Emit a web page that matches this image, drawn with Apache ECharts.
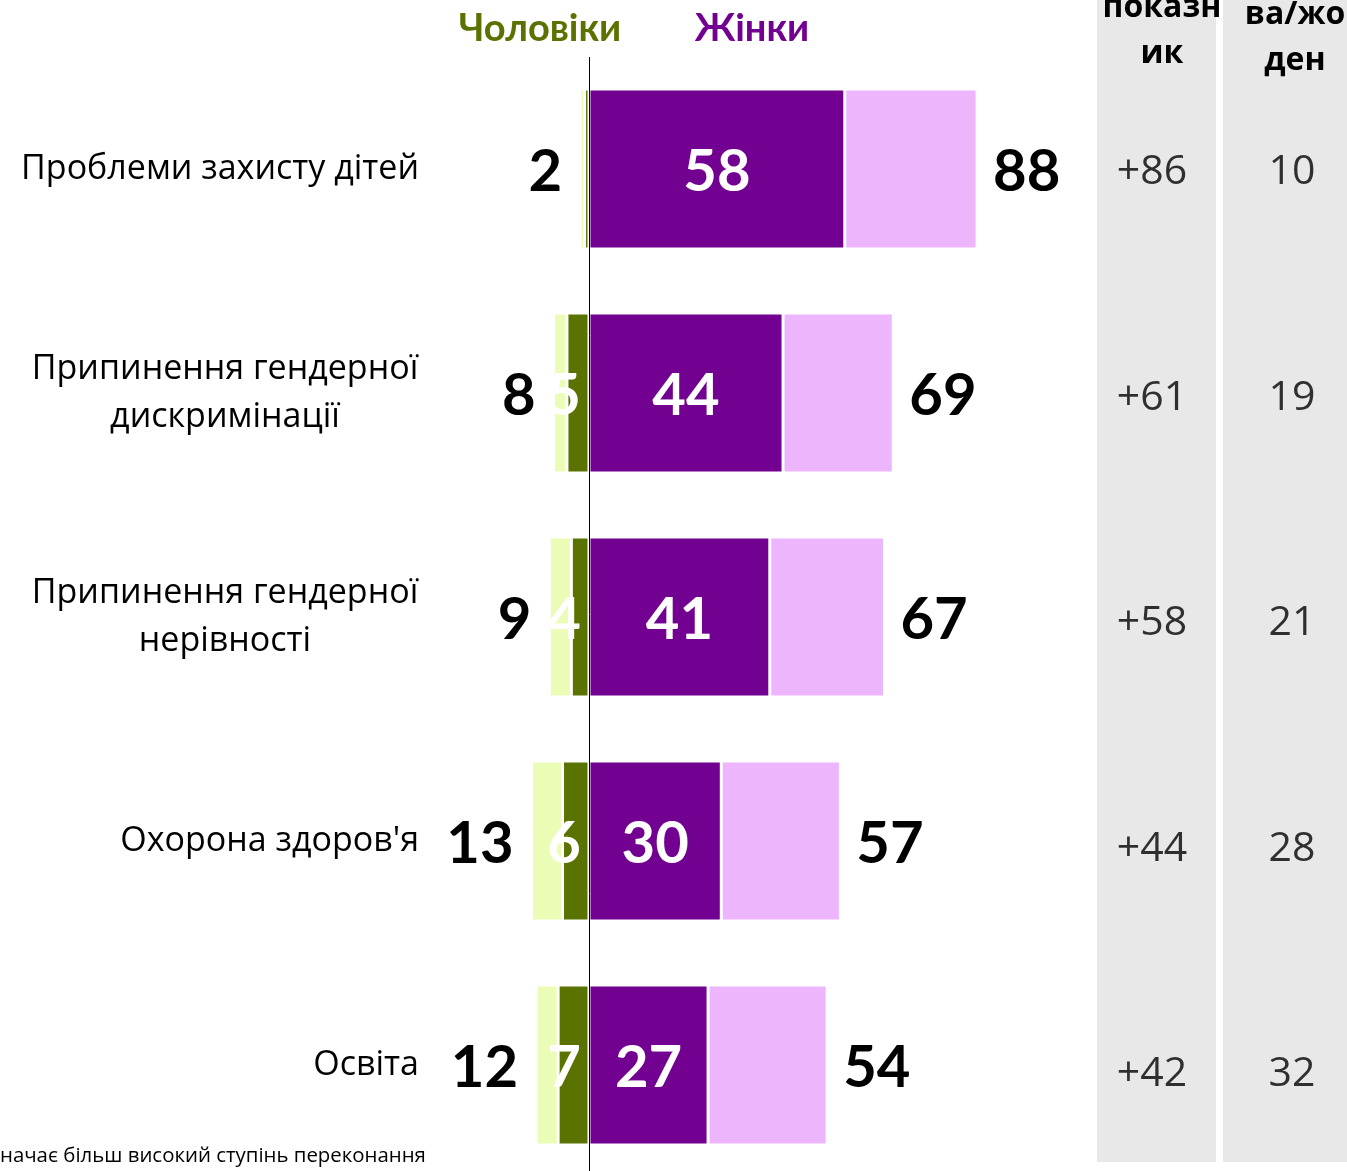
<!DOCTYPE html>
<html>
<head>
<meta charset="utf-8">
<script src="https://cdn.jsdelivr.net/npm/echarts@6/dist/echarts.min.js"></script>
<style>
html,body{margin:0;padding:0;background:#fff;}
#chart{width:1347px;height:1171px;}
</style>
</head>
<body>
<div id="chart"></div>
<script>
// ---- data ----
const categories = [
  'Проблеми захисту дітей',
  'Припинення гендерної\nдискримінації',
  'Припинення гендерної\nнерівності',
  "Охорона здоров'я",
  'Освіта'
];
const menStrong = [1, 5, 4, 6, 7];        // darker green: strong conviction
const menTotal = [2, 8, 9, 13, 12];       // total men
const womenStrong = [58, 44, 41, 30, 27]; // darker purple
const womenTotal = [88, 69, 67, 57, 54];  // total women
const diffValues = [86, 61, 58, 44, 42];  // column "показник"
const noneValues = [10, 19, 21, 28, 32];  // column "жоден"
const columnHeaders = ['показн\nик', 'ва/жо\nден'];
const groupHeaders = ['Чоловіки', 'Жінки'];
const footnote = 'начає більш високий ступінь переконання';

// ---- styling ----
const FONT = 'Lato, "Open Sans", "Noto Sans", sans-serif';
const FONT2 = '"Open Sans", "Noto Sans", sans-serif';
const C_MEN_DARK = '#5a7300';
const C_MEN_LIGHT = '#eafcb5';
const C_WOMEN_DARK = '#720090';
const C_WOMEN_LIGHT = '#edb5fc';
const BIG = 58;
const LBL_OFF = [0, 3];

const menLight = menTotal.map((t, i) => t - menStrong[i]);
const womenLight = womenTotal.map((t, i) => t - womenStrong[i]);

const singleLine = categories.map(c => c.indexOf('\n') < 0);

const chart = echarts.init(document.getElementById('chart'), null, {renderer: 'canvas'});

const barBase = {
  type: 'bar',
  stack: 'all',
  barWidth: 160,
  xAxisIndex: 0,
  yAxisIndex: 0,
  animation: false,
  emphasis: {disabled: true}
};

const option = {
  animation: false,
  backgroundColor: '#fff',
  grid: [
    {left: 427, right: 317, top: 57, bottom: -6, containLabel: false, outerBoundsMode: 'none'},
    {left: 1082, right: -15, top: 60, bottom: -16, containLabel: false, outerBoundsMode: 'none'}
  ],
  xAxis: [
    {type: 'value', gridIndex: 0, min: -36.73, max: 100, show: false},
    {type: 'category', gridIndex: 1, data: columnHeaders, show: false}
  ],
  yAxis: [
    {
      type: 'category', gridIndex: 0, position: 'left', inverse: true, data: categories,
      axisLine: {show: false}, axisTick: {show: false},
      axisLabel: {
        interval: 0, margin: 8, align: 'right',
        fontFamily: FONT2, fontSize: 34, color: '#000',
        formatter: (v, i) => singleLine[i] ? v : ''
      }
    },
    {
      type: 'category', gridIndex: 0, position: 'left', offset: 0, inverse: true, data: categories,
      axisLine: {show: false}, axisTick: {show: false},
      axisLabel: {
        interval: 0, margin: 202, align: 'center', lineHeight: 48,
        fontFamily: FONT2, fontSize: 34, color: '#000',
        formatter: (v, i) => singleLine[i] ? '' : v
      }
    },
    {type: 'category', gridIndex: 1, inverse: true, data: categories, show: false}
  ],
  graphic: [
    {type: 'rect', z: -10, shape: {x: 1097, y: 0, width: 119, height: 1162}, style: {fill: '#e8e8e8'}},
    {type: 'rect', z: -10, shape: {x: 1223, y: 0, width: 124, height: 1162}, style: {fill: '#e8e8e8'}},
    {type: 'text', z: 5, x: 1162, y: 77, style: {text: columnHeaders[0], fontFamily: FONT2, fontWeight: 'bold', fontSize: 32, lineHeight: 46, fill: '#000', align: 'center', verticalAlign: 'bottom'}},
    {type: 'text', z: 5, x: 1295, y: 84, style: {text: columnHeaders[1], fontFamily: FONT2, fontWeight: 'bold', fontSize: 32, lineHeight: 46, fill: '#000', align: 'center', verticalAlign: 'bottom'}},
    {type: 'text', z: 5, x: 540, y: 29, style: {text: groupHeaders[0], fontFamily: FONT, fontWeight: 'bold', fontSize: 38, fill: C_MEN_DARK, align: 'center', verticalAlign: 'middle'}},
    {type: 'text', z: 5, x: 752, y: 29, style: {text: groupHeaders[1], fontFamily: FONT, fontWeight: 'bold', fontSize: 38, fill: C_WOMEN_DARK, align: 'center', verticalAlign: 'middle'}},
    {type: 'text', z: 5, x: 0, y: 1156, style: {text: footnote, fontFamily: FONT2, fontSize: 20.4, fill: '#000', align: 'left', verticalAlign: 'middle'}}
  ],
  series: [
    Object.assign({}, barBase, {
      name: 'Чоловіки (більш переконані)',
      data: menStrong.map(v => -v),
      itemStyle: {color: C_MEN_DARK, borderColor: '#fff', borderWidth: 1.5},
      label: {
        show: true, position: 'insideRight', distance: 8, offset: LBL_OFF,
        fontFamily: FONT, fontWeight: 'bold', fontSize: BIG, color: '#fff',
        formatter: p => String(menStrong[p.dataIndex])
      },
      markLine: {
        silent: true, symbol: 'none', animation: false,
        label: {show: false},
        lineStyle: {color: '#000', width: 1, type: 'solid'},
        data: [{xAxis: 0}]
      }
    }),
    Object.assign({}, barBase, {
      name: 'Жінки (більш переконані)',
      data: womenStrong,
      itemStyle: {color: C_WOMEN_DARK, borderColor: '#fff', borderWidth: 1.5},
      label: {
        show: true, position: 'inside', offset: LBL_OFF,
        fontFamily: FONT, fontWeight: 'bold', fontSize: BIG, color: '#fff',
        formatter: p => String(womenStrong[p.dataIndex])
      }
    }),
    Object.assign({}, barBase, {
      name: 'Чоловіки',
      data: menLight.map(v => -v),
      itemStyle: {color: C_MEN_LIGHT, borderColor: '#fff', borderWidth: 1.5},
      label: {
        show: true, position: 'left', distance: 18, offset: LBL_OFF,
        fontFamily: FONT, fontWeight: 'bold', fontSize: BIG, color: '#000',
        formatter: p => String(menTotal[p.dataIndex])
      }
    }),
    Object.assign({}, barBase, {
      name: 'Жінки',
      data: womenLight,
      itemStyle: {color: C_WOMEN_LIGHT, borderColor: '#fff', borderWidth: 1.5},
      label: {
        show: true, position: 'right', distance: 16, offset: LBL_OFF,
        fontFamily: FONT, fontWeight: 'bold', fontSize: BIG, color: '#000',
        formatter: p => String(womenTotal[p.dataIndex])
      }
    }),
    {
      type: 'scatter', xAxisIndex: 1, yAxisIndex: 2, symbolSize: 0,
      itemStyle: {color: '#e8e8e8'}, animation: false,
      data: diffValues.map((v, i) => [0, i]),
      label: {
        show: true, position: 'inside', fontFamily: FONT2, fontWeight: 'normal', fontSize: 41,
        color: '#000', textBorderWidth: 0,
        formatter: p => '+' + diffValues[p.dataIndex]
      }
    },
    {
      type: 'scatter', xAxisIndex: 1, yAxisIndex: 2, symbolSize: 0,
      itemStyle: {color: '#e8e8e8'}, animation: false,
      data: noneValues.map((v, i) => [1, i]),
      label: {
        show: true, position: 'inside', fontFamily: FONT2, fontWeight: 'normal', fontSize: 41,
        color: '#000', textBorderWidth: 0,
        formatter: p => String(noneValues[p.dataIndex])
      }
    }
  ]
};
chart.setOption(option);
</script>
</body>
</html>
